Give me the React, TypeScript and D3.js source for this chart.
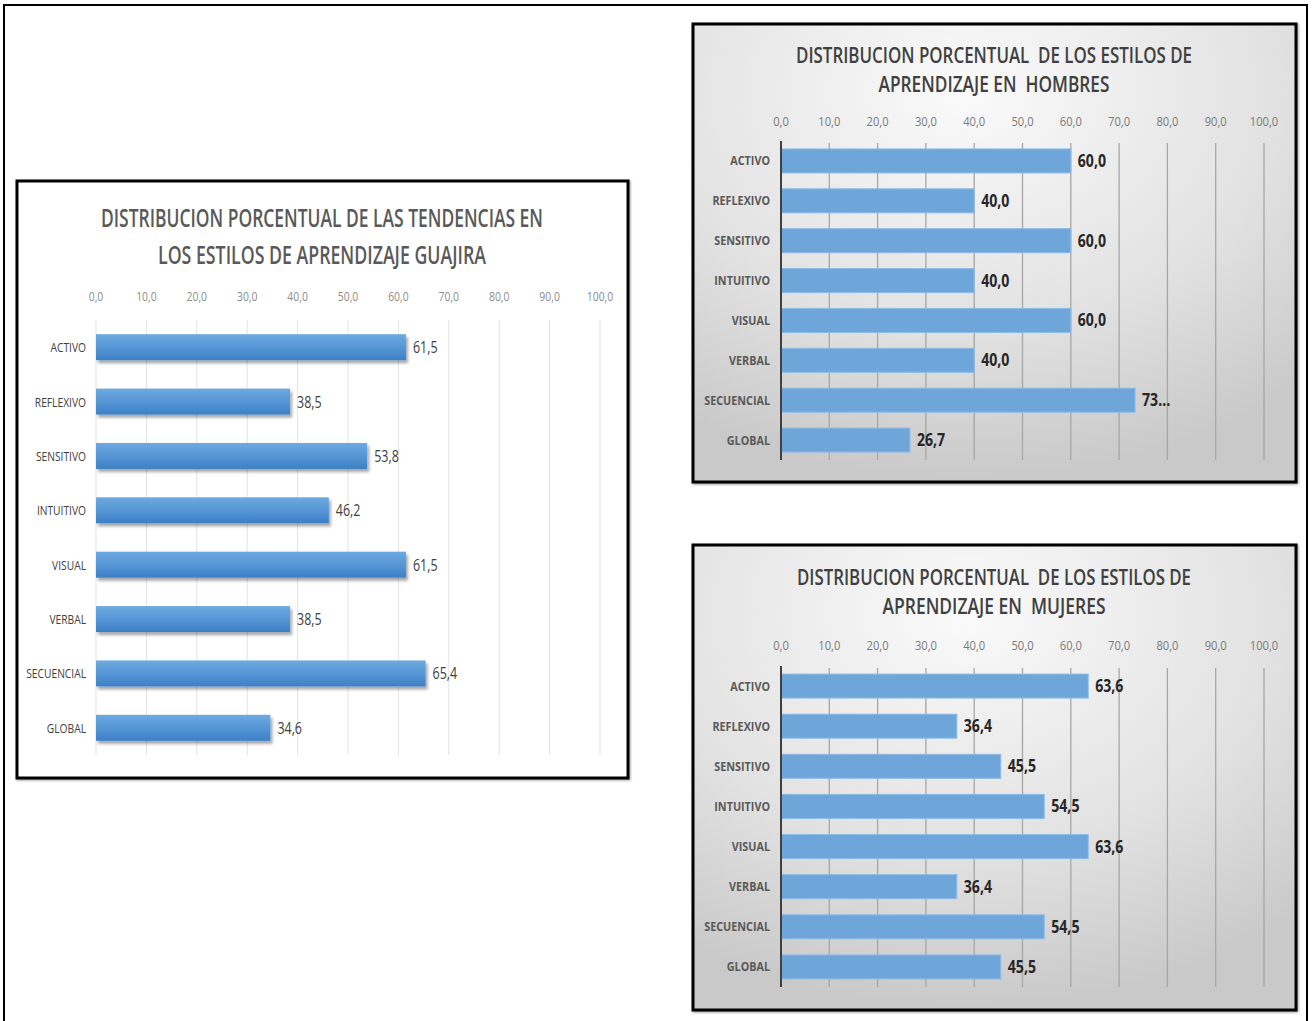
import React from "react";
import * as d3 from "d3";

const categories = ["ACTIVO", "REFLEXIVO", "SENSITIVO", "INTUITIVO", "VISUAL", "VERBAL", "SECUENCIAL", "GLOBAL"];
const guajiraValues = [61.5, 38.5, 53.8, 46.2, 61.5, 38.5, 65.4, 34.6];
const hombresValues = [60.0, 40.0, 60.0, 40.0, 60.0, 40.0, 73.3, 26.7];
const mujeresValues = [63.6, 36.4, 45.5, 54.5, 63.6, 36.4, 54.5, 45.5];
const tickValues = [0, 10, 20, 30, 40, 50, 60, 70, 80, 90, 100];
const hombresLabelOverrides: Record<number, string> = { 6: "73..." };

const guajiraTitle = ["DISTRIBUCION PORCENTUAL DE LAS TENDENCIAS EN", "LOS ESTILOS DE APRENDIZAJE GUAJIRA"];
const hombresTitle = ["DISTRIBUCION PORCENTUAL  DE LOS ESTILOS DE", "APRENDIZAJE EN  HOMBRES"];
const mujeresTitle = ["DISTRIBUCION PORCENTUAL  DE LOS ESTILOS DE", "APRENDIZAJE EN  MUJERES"];

const FONT = "'Open Sans', 'DejaVu Sans', sans-serif";
const fmt = (v: number) => d3.format(".1f")(v).replace(".", ",");

function NText({ x, y, sx, anchor, size, fill, weight, children }: any) {
  return (
    <text transform={`translate(${x},${y}) scale(${sx},1)`} textAnchor={anchor || "start"} fontFamily={FONT}
      fontSize={size} fill={fill} fontWeight={weight || "normal"} style={{ whiteSpace: "pre" }}>{children}</text>
  );
}

type Cfg = {
  box: [number, number, number, number];
  x0: number; x1: number;
  yTop: number; yBot: number;
  barH: number;
  tickY: number;
  titleY: [number, number];
  titleX: number;
  titleLen: [number, number];
  titleSize: number;
  labelRight: number;
};

function LeftChart() {
  const c = { x0: 96, x1: 600, yTop: 320, yBot: 755 };
  const x = d3.scaleLinear().domain([0, 100]).range([c.x0, c.x1]);
  const step = (c.yBot - c.yTop) / categories.length;
  const pi = 1 - 26 / step;
  const y = d3.scaleBand<string>().domain(categories).range([c.yTop, c.yBot]).paddingInner(pi).paddingOuter(pi / 2);
  return (
    <g>
      <rect x={17} y={181} width={611} height={597} fill="#ffffff" stroke="#000" strokeWidth={3} filter="url(#boxShadow)" />
      {guajiraTitle.map((t, i) => (
        <text key={i} x={322} y={[227, 264][i]} textAnchor="middle" fontFamily={FONT} fontSize={25} fontWeight={600} fill="#595959"
          textLength={[442, 328][i]} lengthAdjust="spacingAndGlyphs">{t}</text>
      ))}
      {tickValues.map((t) => (
        <g key={t}>
          <line x1={x(t)} x2={x(t)} y1={c.yTop} y2={c.yBot} stroke="#e3e3e3" strokeWidth={1} />
          <NText x={x(t)} y={301} sx={0.8} anchor="middle" size={13} fill="#8c8c8c">{fmt(t)}</NText>
        </g>
      ))}
      {categories.map((cat, i) => {
        const yy = y(cat)!;
        const v = guajiraValues[i];
        return (
          <g key={cat}>
            <rect x={x(0)} y={yy} width={x(v) - x(0)} height={y.bandwidth()} fill="url(#leftBar)" filter="url(#barShadow)" />
            <NText x={86} y={yy + y.bandwidth() / 2 + 5} sx={0.76} anchor="end" size={13.5} fill="#404040">{cat}</NText>
            <NText x={x(v) + 7} y={yy + y.bandwidth() / 2 + 6} sx={0.78} size={16} fill="#404040">{fmt(v)}</NText>
          </g>
        );
      })}
    </g>
  );
}

function RightChart({ values, title, cfg, overrides }: { values: number[]; title: string[]; cfg: Cfg; overrides?: Record<number, string> }) {
  const x = d3.scaleLinear().domain([0, 100]).range([cfg.x0, cfg.x1]);
  const step = (cfg.yBot - cfg.yTop) / categories.length;
  const pi = 1 - cfg.barH / step;
  const y = d3.scaleBand<string>().domain(categories).range([cfg.yTop, cfg.yBot]).paddingInner(pi).paddingOuter(pi / 2);
  const [bx, by, bw, bh] = cfg.box;
  return (
    <g>
      <rect x={bx} y={by} width={bw} height={bh} fill="url(#rightBg)" stroke="#000" strokeWidth={3} filter="url(#boxShadow)" />
      {title.map((t, i) => (
        <text key={i} x={cfg.titleX} y={cfg.titleY[i]} textAnchor="middle" fontFamily={FONT} fontSize={cfg.titleSize} fontWeight={600} fill="#404040"
          textLength={cfg.titleLen[i]} lengthAdjust="spacingAndGlyphs" style={{ whiteSpace: "pre" }}>{t}</text>
      ))}
      {tickValues.map((t) => (
        <g key={t}>
          {t > 0 && <line x1={x(t)} x2={x(t)} y1={cfg.yTop + 2} y2={cfg.yBot} stroke="#a6a6a6" strokeWidth={1.3} />}
          <NText x={x(t)} y={cfg.tickY} sx={0.86} anchor="middle" size={13} fill="#7a7a7a">{fmt(t)}</NText>
        </g>
      ))}
      {categories.map((cat, i) => {
        const yy = y(cat)!;
        const v = values[i];
        const lab = overrides && overrides[i] !== undefined ? overrides[i] : fmt(v);
        return (
          <g key={cat}>
            <rect x={x(0)} y={yy} width={x(v) - x(0)} height={y.bandwidth()} fill="#6fa6da" stroke="#8cbbe6" strokeWidth={1} />
            <NText x={cfg.labelRight} y={yy + y.bandwidth() / 2 + 4.5} sx={0.83} anchor="end" size={13} weight="bold" fill="#595959">{cat}</NText>
            <NText x={x(v) + 7} y={yy + y.bandwidth() / 2 + 6} sx={0.83} size={17} weight="bold" fill="#262626">{lab}</NText>
          </g>
        );
      })}
      <line x1={x(0)} x2={x(0)} y1={cfg.yTop} y2={cfg.yBot} stroke="#404040" strokeWidth={2} />
    </g>
  );
}

const hombresCfg: Cfg = {
  box: [693, 24, 603, 458],
  x0: 781, x1: 1264, yTop: 141, yBot: 460, barH: 24, tickY: 126,
  titleY: [63, 92], titleX: 994, titleLen: [396, 231], titleSize: 21, labelRight: 770,
};
const mujeresCfg: Cfg = {
  box: [693, 545, 603, 465],
  x0: 781, x1: 1264, yTop: 666, yBot: 987, barH: 24, tickY: 650,
  titleY: [585, 614], titleX: 994, titleLen: [394, 223], titleSize: 21, labelRight: 770,
};

export default function App() {
  return (
    <svg width={1312} height={1021} style={{ position: "absolute", left: 0, top: 0, background: "#fff" }}>
      <defs>
        <linearGradient id="leftBar" x1="0" y1="0" x2="0" y2="1">
          <stop offset="0" stopColor="#6eaae0" />
          <stop offset="0.5" stopColor="#5696d6" />
          <stop offset="1" stopColor="#3d80c6" />
        </linearGradient>
        <radialGradient id="rightBg" cx="0.45" cy="0.15" r="0.85">
          <stop offset="0" stopColor="#fafafa" />
          <stop offset="0.6" stopColor="#e2e2e2" />
          <stop offset="1" stopColor="#c9c9c9" />
        </radialGradient>
        <filter id="barShadow" x="-5%" y="-30%" width="115%" height="180%">
          <feDropShadow dx="2" dy="3" stdDeviation="1.5" floodColor="#000" floodOpacity="0.35" />
        </filter>
        <filter id="boxShadow" x="-5%" y="-5%" width="110%" height="110%">
          <feDropShadow dx="1" dy="1" stdDeviation="1" floodColor="#000" floodOpacity="0.4" />
        </filter>
      </defs>
      <rect x={4} y={5} width={1303} height={1030} fill="#fff" stroke="#000" strokeWidth={2} />
      <LeftChart />
      <RightChart values={hombresValues} title={hombresTitle} cfg={hombresCfg} overrides={hombresLabelOverrides} />
      <RightChart values={mujeresValues} title={mujeresTitle} cfg={mujeresCfg} />
    </svg>
  );
}
